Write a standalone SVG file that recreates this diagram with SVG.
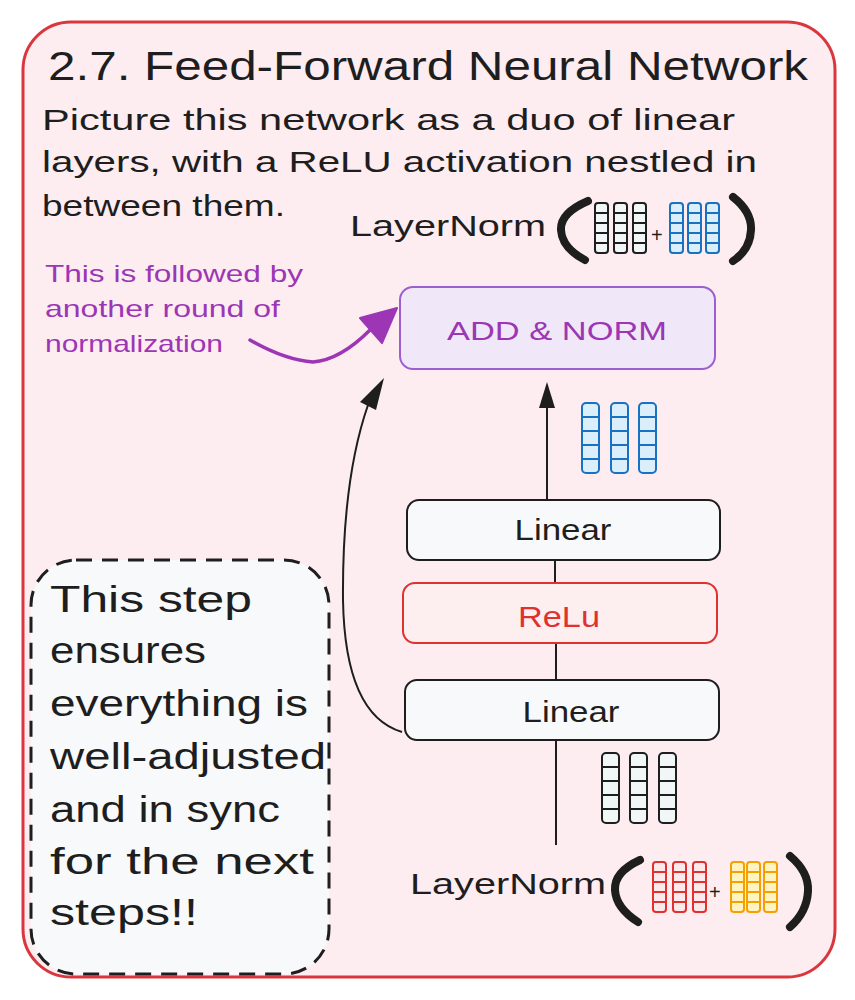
<svg xmlns="http://www.w3.org/2000/svg" width="855" height="1000" viewBox="0 0 855 1000">
<style>
text{font-family:"Liberation Sans",Arial,sans-serif;fill:#1e1e1e}
.t{font-size:40px}
.p{font-size:29px}
.ln{font-size:30px}
.an{font-size:24px;fill:#9c36b5}
.big{font-size:36px}
.box{stroke:#1e1e1e;stroke-width:2;fill:#f8f9fa}
.wire{stroke:#1e1e1e;stroke-width:2;fill:none}
.vk rect{fill:#f1f6f7;stroke:#1e1e1e;stroke-width:2}
.vb rect{fill:#dbeefc;stroke:#1971c2;stroke-width:2}
.vr rect{fill:#fbe9ec;stroke:#e03131;stroke-width:2}
.vo rect{fill:#fff3bf;stroke:#f59f00;stroke-width:2}
.par{fill:none;stroke:#1e1e1e;stroke-width:8;stroke-linecap:round}
.lbl{font-size:29px}
</style>
<rect x="0" y="0" width="855" height="1000" fill="#ffffff"/>
<rect x="23" y="22" width="812" height="955" rx="48" fill="#fdedf1" stroke="#d9363e" stroke-width="3"/>

<g id="title"><text class="t" x="48" y="80" textLength="760" lengthAdjust="spacingAndGlyphs">2.7. Feed-Forward Neural Network</text></g>
<g id="intro">
<text class="p" x="42" y="130" textLength="693" lengthAdjust="spacingAndGlyphs">Picture this network as a duo of linear</text>
<text class="p" x="42" y="172" textLength="715" lengthAdjust="spacingAndGlyphs">layers, with a ReLU activation nestled in</text>
<text class="p" x="42" y="216" textLength="243" lengthAdjust="spacingAndGlyphs">between them.</text>
</g>

<g id="layernorm-top">
<text class="ln" x="350" y="236" textLength="196" lengthAdjust="spacingAndGlyphs">LayerNorm</text>
<path class="par" d="M588,201 Q560,213 561,230 Q562,248 585,260"/>
<g class="vk">
<rect x="595" y="203" width="13" height="50" rx="3"/><rect x="614" y="203" width="13" height="50" rx="3"/><rect x="633" y="203" width="13" height="50" rx="3"/>
<path d="M595,213h13M595,223h13M595,233h13M595,243h13M614,213h13M614,223h13M614,233h13M614,243h13M633,213h13M633,223h13M633,233h13M633,243h13" stroke="#1e1e1e" stroke-width="2"/>
</g>
<text x="651" y="242" style="font-size:20px">+</text>
<g class="vb">
<rect x="670" y="203" width="13" height="50" rx="3"/><rect x="688" y="203" width="13" height="50" rx="3"/><rect x="706" y="203" width="13" height="50" rx="3"/>
<path d="M670,213h13M670,223h13M670,233h13M670,243h13M688,213h13M688,223h13M688,233h13M688,243h13M706,213h13M706,223h13M706,233h13M706,243h13" stroke="#1971c2" stroke-width="2"/>
</g>
<path class="par" d="M733,197 Q752,212 751,230 Q750,250 733,261"/>
</g>

<g id="annotation">
<text class="an" x="45" y="282" textLength="258" lengthAdjust="spacingAndGlyphs">This is followed by</text>
<text class="an" x="45" y="317" textLength="235" lengthAdjust="spacingAndGlyphs">another round of</text>
<text class="an" x="45" y="352" textLength="178" lengthAdjust="spacingAndGlyphs">normalization</text>
</g>

<g id="connectors">
<path d="M250,340 Q285,360 313,362 Q340,360 370,330" fill="none" stroke="#9c36b5" stroke-width="3.5" stroke-linecap="round"/>
<path d="M397,308 L360,318 L382,343 Z" fill="#9c36b5" stroke="#9c36b5" stroke-width="2" stroke-linejoin="round"/>
<line class="wire" x1="547" y1="500" x2="547" y2="398"/>
<path d="M547,382 L555,408 L539,408 Z" fill="#1e1e1e"/>
<line class="wire" x1="555" y1="560" x2="555" y2="583"/>
<line class="wire" x1="556" y1="643" x2="556" y2="680"/>
<line class="wire" x1="556" y1="740" x2="556" y2="845"/>
<path d="M402,732 Q345,715 343,600 Q342,480 368,405" fill="none" stroke="#1e1e1e" stroke-width="2"/>
<path d="M384,378 L376,410 L360,402 Z" fill="#1e1e1e"/>
</g>

<g id="add-norm">
<rect x="400" y="287" width="315" height="82" rx="13" fill="#f0e8f8" stroke="#9c5fd0" stroke-width="2"/>
<text x="557" y="340" text-anchor="middle" style="font-size:26px;fill:#9c36b5" textLength="220" lengthAdjust="spacingAndGlyphs">ADD &amp; NORM</text>
</g>

<g id="vec-mid" class="vb">
<rect x="582" y="403" width="17" height="70" rx="4"/><rect x="611" y="403" width="17" height="70" rx="4"/><rect x="639" y="403" width="17" height="70" rx="4"/>
<path d="M582,417h17M582,431h17M582,445h17M582,459h17M611,417h17M611,431h17M611,445h17M611,459h17M639,417h17M639,431h17M639,445h17M639,459h17" stroke="#1971c2" stroke-width="2"/>
</g>

<g id="linear-top">
<rect class="box" x="407" y="500" width="313" height="60" rx="12"/>
<text class="lbl" x="563" y="540" text-anchor="middle" textLength="97" lengthAdjust="spacingAndGlyphs">Linear</text>
</g>
<g id="relu">
<rect x="403" y="583" width="314" height="60" rx="12" fill="#fdeef0" stroke="#e03131" stroke-width="2"/>
<text class="lbl" x="559" y="627" text-anchor="middle" style="fill:#e03131" textLength="82" lengthAdjust="spacingAndGlyphs">ReLu</text>
</g>
<g id="linear-bottom">
<rect class="box" x="405" y="680" width="314" height="60" rx="12"/>
<text class="lbl" x="571" y="722" text-anchor="middle" textLength="97" lengthAdjust="spacingAndGlyphs">Linear</text>
</g>

<g id="vec-low" class="vk">
<rect x="602" y="753" width="17" height="70" rx="4"/><rect x="630" y="753" width="17" height="70" rx="4"/><rect x="659" y="753" width="17" height="70" rx="4"/>
<path d="M602,767h17M602,781h17M602,795h17M602,809h17M630,767h17M630,781h17M630,795h17M630,809h17M659,767h17M659,781h17M659,795h17M659,809h17" stroke="#1e1e1e" stroke-width="2"/>
</g>

<g id="layernorm-bottom">
<text class="ln" x="410" y="894" textLength="196" lengthAdjust="spacingAndGlyphs">LayerNorm</text>
<path class="par" d="M640,860 Q614,872 615,890 Q616,908 638,922"/>
<g class="vr">
<rect x="653" y="862" width="13" height="50" rx="3"/><rect x="673" y="862" width="13" height="50" rx="3"/><rect x="693" y="862" width="13" height="50" rx="3"/>
<path d="M653,872h13M653,882h13M653,892h13M653,902h13M673,872h13M673,882h13M673,892h13M673,902h13M693,872h13M693,882h13M693,892h13M693,902h13" stroke="#e03131" stroke-width="2"/>
</g>
<text x="709" y="899" style="font-size:20px">+</text>
<g class="vo">
<rect x="731" y="862" width="13" height="50" rx="3"/><rect x="747" y="862" width="13" height="50" rx="3"/><rect x="764" y="862" width="13" height="50" rx="3"/>
<path d="M731,872h13M731,882h13M731,892h13M731,902h13M747,872h13M747,882h13M747,892h13M747,902h13M764,872h13M764,882h13M764,892h13M764,902h13" stroke="#f59f00" stroke-width="2"/>
</g>
<path class="par" d="M790,856 Q809,872 808,891 Q807,912 790,927"/>
</g>

<g id="note">
<rect x="31" y="560" width="298" height="414" rx="45" fill="#f8f9fa" stroke="#1e1e1e" stroke-width="3" stroke-dasharray="16 10"/>
<text class="big" x="50" y="612" textLength="202" lengthAdjust="spacingAndGlyphs">This step</text>
<text class="big" x="50" y="663" textLength="156" lengthAdjust="spacingAndGlyphs">ensures</text>
<text class="big" x="50" y="716" textLength="258" lengthAdjust="spacingAndGlyphs">everything is</text>
<text class="big" x="50" y="769" textLength="276" lengthAdjust="spacingAndGlyphs">well-adjusted</text>
<text class="big" x="50" y="822" textLength="230" lengthAdjust="spacingAndGlyphs">and in sync</text>
<text class="big" x="50" y="874" textLength="264" lengthAdjust="spacingAndGlyphs">for the next</text>
<text class="big" x="50" y="925" textLength="148" lengthAdjust="spacingAndGlyphs">steps!!</text>
</g>
</svg>
